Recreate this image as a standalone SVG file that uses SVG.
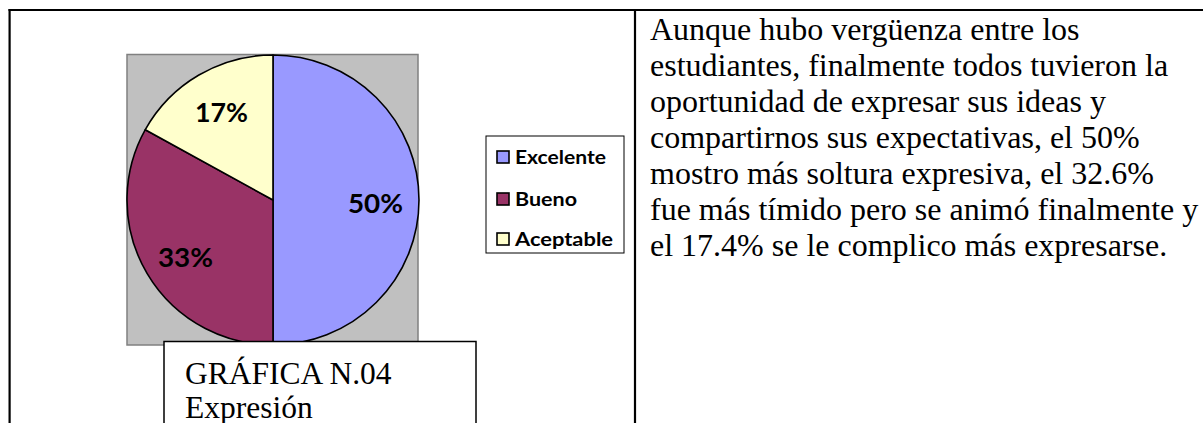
<svg xmlns="http://www.w3.org/2000/svg" width="1203" height="423" viewBox="0 0 1203 423">
  <style>
    .rule { stroke: #000; stroke-width: 2.2; fill: none; }
    .slice { stroke: #000; stroke-width: 1.6; stroke-linejoin: round; }
    .pct { font-family: Lato, "Open Sans", "DejaVu Sans", sans-serif; font-weight: bold; font-size: 27px; fill: #000; }
    .leg { font-family: Lato, "Open Sans", "DejaVu Sans", sans-serif; font-weight: bold; font-size: 19px; fill: #000; }
    .sw { stroke: #000; stroke-width: 1.6; }
    .serif { font-family: "Liberation Serif", "Times New Roman", serif; fill: #000; }
  </style>
  <rect x="0" y="0" width="1203" height="423" fill="#fff"/>

  <g id="table">
    <line class="rule" x1="8.5" y1="10" x2="1203" y2="10"/>
    <line class="rule" x1="9.6" y1="9" x2="9.6" y2="423"/>
    <line class="rule" x1="635" y1="9" x2="635" y2="423"/>
  </g>

  <g id="chart-area">
    <rect x="127" y="54.5" width="291" height="290.5" fill="#c0c0c0" stroke="#808080" stroke-width="1.5"/>
  </g>

  <g id="pie">
    <path id="slice-excelente" class="slice" fill="#9999ff" d="M273,200 L273,55 A146,145 0 0 1 273,345 Z"/>
    <path id="slice-bueno" class="slice" fill="#993366" d="M273,200 L273,345 A146,145 0 0 1 145.3,129.7 Z"/>
    <path id="slice-aceptable" class="slice" fill="#ffffcc" d="M273,200 L145.3,129.7 A146,145 0 0 1 273,55 Z"/>
    <text class="pct" x="195" y="122" textLength="53" lengthAdjust="spacingAndGlyphs">17%</text>
    <text class="pct" x="348" y="213" textLength="55" lengthAdjust="spacingAndGlyphs">50%</text>
    <text class="pct" x="158" y="267" textLength="55" lengthAdjust="spacingAndGlyphs">33%</text>
  </g>

  <g id="legend">
    <rect x="486" y="136" width="138" height="117" fill="#fff" stroke="#000" stroke-width="1"/>
    <rect class="sw" x="497" y="151" width="12" height="12" fill="#9999ff"/>
    <rect class="sw" x="497" y="193" width="12" height="12" fill="#993366"/>
    <rect class="sw" x="497" y="233" width="12" height="12" fill="#ffffcc"/>
    <text class="leg" x="515" y="163.5" textLength="91" lengthAdjust="spacingAndGlyphs">Excelente</text>
    <text class="leg" x="515" y="205.5" textLength="62" lengthAdjust="spacingAndGlyphs">Bueno</text>
    <text class="leg" x="515" y="245.5" textLength="98" lengthAdjust="spacingAndGlyphs">Aceptable</text>
  </g>

  <g id="caption">
    <rect x="164" y="341.5" width="312" height="100" fill="#fff" stroke="#000" stroke-width="1.5"/>
    <text class="serif" x="185" y="384" font-size="31.5">GRÁFICA N.04</text>
    <text class="serif" x="185" y="418" font-size="31.5">Expresión</text>
  </g>

  <g id="description">
    <text class="serif" font-size="32">
      <tspan x="650" y="40">Aunque hubo vergüenza entre los</tspan>
      <tspan x="650" y="76">estudiantes, finalmente todos tuvieron la</tspan>
      <tspan x="650" y="112">oportunidad de expresar sus ideas y</tspan>
      <tspan x="650" y="148">compartirnos sus expectativas, el 50%</tspan>
      <tspan x="650" y="184">mostro más soltura expresiva, el 32.6%</tspan>
      <tspan x="650" y="220">fue más tímido pero se animó finalmente y</tspan>
      <tspan x="650" y="256">el 17.4% se le complico más expresarse.</tspan>
    </text>
  </g>
</svg>
